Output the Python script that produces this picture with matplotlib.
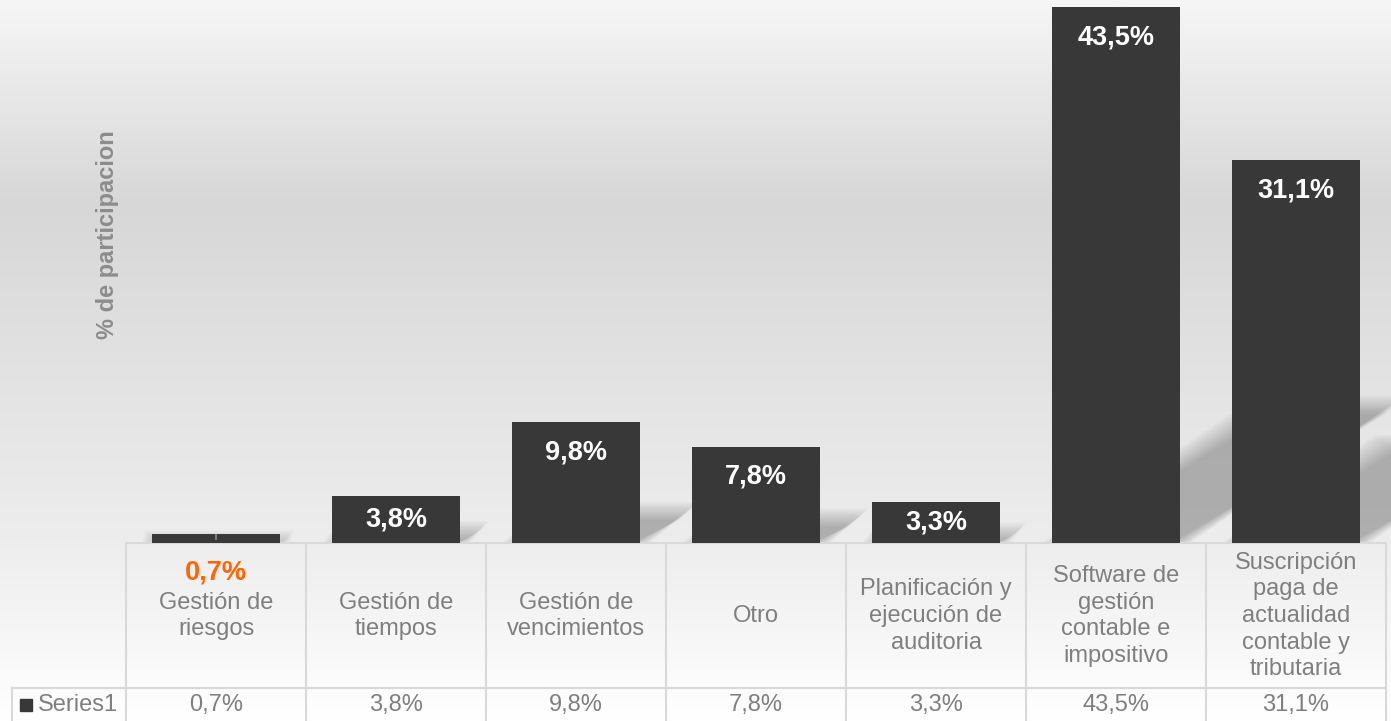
import numpy as np
import matplotlib
matplotlib.use("Agg")
import matplotlib.pyplot as plt
from matplotlib.transforms import blended_transform_factory
from matplotlib.colors import LinearSegmentedColormap

plt.rcParams['font.family'] = ['Liberation Sans', 'DejaVu Sans']

categories = ["Gestión de\nriesgos", "Gestión de\ntiempos", "Gestión de\nvencimientos", "Otro",
              "Planificación y\nejecución de\nauditoria", "Software de\ngestión\ncontable e\nimpositivo",
              "Suscripción\npaga de\nactualidad\ncontable y\ntributaria"]
values = [0.7, 3.8, 9.8, 7.8, 3.3, 43.5, 31.1]
value_labels = ["0,7%", "3,8%", "9,8%", "7,8%", "3,3%", "43,5%", "31,1%"]
series_name = "Series1"
y_title = "% de participacion"

W, H = 1391, 721
fig = plt.figure(figsize=(W / 100, H / 100), dpi=100)

# background gradient
bg = fig.add_axes([0, 0, 1, 1], zorder=-10)
bg.set_axis_off()
cmap = LinearSegmentedColormap.from_list(
    "bg", [(0.0, "#f6f6f6"), (0.28, "#d7d7d7"), (0.55, "#e4e4e4"), (0.75, "#ededed"), (1.0, "#ffffff")])
grad = np.linspace(0, 1, 256).reshape(-1, 1)
bg.imshow(grad, aspect="auto", cmap=cmap, extent=[0, 1, 1, 0])
bg.set_xlim(0, 1); bg.set_ylim(1, 0)

left, right, base = 126, 1386, 543
ymax = 44.1
ax = fig.add_axes([left / W, (H - base) / H, (right - left) / W, base / H])
ax.set_facecolor("none")
for s in ax.spines.values():
    s.set_visible(False)
ax.set_xticks([]); ax.set_yticks([])
ax.set_xlim(-0.5, len(values) - 0.5)
ax.set_ylim(0, ymax)

x = np.arange(len(values))
bw = 0.71
bars = ax.bar(x, values, width=bw, color="#383838", zorder=3)

px_per_unit = base / ymax
px_per_cat = (right - left) / len(values)

# soft diagonal shadows behind bars
n_layers = 10
for xi, v in zip(x, values):
    h_px = v * px_per_unit
    dx_px = 0.4 * h_px
    dxd = dx_px / px_per_cat
    dyd = 0.64 * dx_px / px_per_unit
    for k in range(n_layers):
        e = (n_layers / 2 - k) * 2.0
        ex = e / px_per_cat
        ey = e / px_per_unit
        xs = [xi - bw / 2 - ex, xi + bw / 2 + ex, xi + bw / 2 + dxd + ex, xi - bw / 2 + dxd - ex]
        ys = [0, 0, max(dyd + ey, 0), max(dyd + ey, 0)]
        ax.fill(xs, ys, color="black", alpha=0.026, lw=0, zorder=2, clip_on=False)

for xi, v, lab in zip(x, values, value_labels):
    if v < 2:
        continue
    y = max(v - 30 / px_per_unit, v / 2)
    ax.text(xi, y, lab, ha="center", va="center", color="white", fontsize=19.5, fontweight="bold", zorder=4)

tr = blended_transform_factory(ax.transData, ax.transAxes)
# small-value label below axis
for xi, v, lab in zip(x, values, value_labels):
    if v < 2:
        ax.annotate(lab, xy=(xi, v), xytext=(xi, -29 / base), textcoords=tr,
                    ha="center", va="center", color="#ff6600", fontsize=19.5, fontweight="bold",
                    arrowprops=dict(arrowstyle="-", color="#999999", lw=1, shrinkA=12, shrinkB=0),
                    annotation_clip=False, zorder=5)

# table
line_c = "#d9d9d9"
row1_bot = (base - 688) / base
row2_bot = (base - 721) / base
lab_left = -0.5 - 114 / px_per_cat
for xi in np.arange(len(values) + 1) - 0.5:
    ax.plot([xi, xi], [0, row2_bot], transform=tr, color=line_c, lw=1.5, clip_on=False, zorder=2)
ax.plot([-0.5, len(values) - 0.5], [0, 0], transform=tr, color=line_c, lw=1.5, clip_on=False, zorder=2)
ax.plot([lab_left, len(values) - 0.5], [row1_bot, row1_bot], transform=tr, color=line_c, lw=1.5, clip_on=False, zorder=2)
ax.plot([lab_left, lab_left], [row1_bot, row2_bot], transform=tr, color=line_c, lw=1.5, clip_on=False, zorder=2)

cat_y = (base - 616) / base
val_y = (base - 705) / base
for xi, c, lab in zip(x, categories, value_labels):
    ax.text(xi, cat_y, c, transform=tr, ha="center", va="center", color="#7f7f7f", fontsize=17,
            linespacing=1.27, clip_on=False)
    ax.text(xi, val_y, lab, transform=tr, ha="center", va="center", color="#7f7f7f", fontsize=17, clip_on=False)

ax.text(-0.5 - 88 / px_per_cat, val_y, series_name, transform=tr, ha="left", va="center", color="#7f7f7f",
        fontsize=17, clip_on=False)
ax.plot([-0.5 - 100 / px_per_cat], [val_y], transform=tr, marker="s", ms=9, color="#383838", clip_on=False, ls="none")

fig.text(108 / W, 1 - 235 / H, y_title, rotation=90, ha="center", va="center", color="#8c8c8c",
         fontsize=17, fontweight="bold")

fig.savefig("out.png", dpi=100)
